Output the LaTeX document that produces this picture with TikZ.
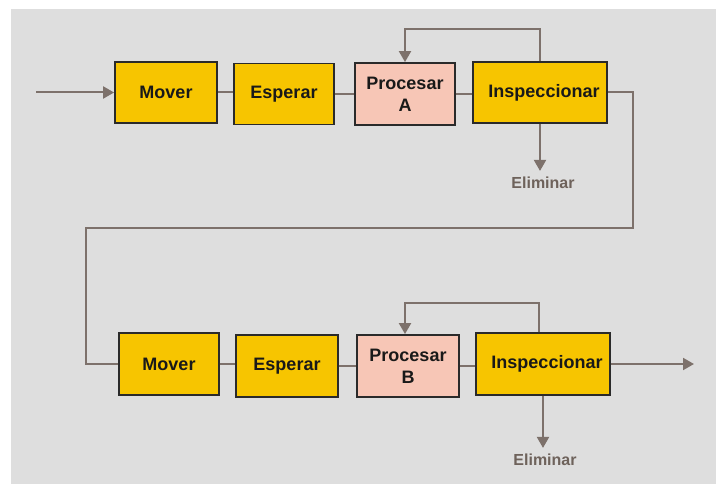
\documentclass[tikz,border=0pt]{standalone}
\usepackage{fontspec}
\setmainfont{Liberation Sans}
\usetikzlibrary{arrows.meta}
\definecolor{panel}{HTML}{DEDEDE}
\definecolor{boxyellow}{HTML}{F7C500}
\definecolor{boxpink}{HTML}{F7C6B6}
\definecolor{wire}{HTML}{7D716B}
\definecolor{outline}{HTML}{2A2A2A}
\definecolor{droptext}{HTML}{6E625B}
\tikzset{
  stepbox/.style={draw=outline, line width=1.8pt, fill=boxyellow, inner sep=0pt,
    font=\fontsize{18}{21}\selectfont\bfseries, text=black!90, align=center},
  procbox/.style={stepbox, fill=boxpink},
  wireline/.style={draw=wire, line width=2pt},
  arr/.style={wireline, -{Triangle[length=11pt,width=12pt]}},
  droplabel/.style={font=\fontsize{16}{19}\selectfont\bfseries, text=droptext, inner sep=1pt}
}
\begin{document}
\begin{tikzpicture}[x=1pt,y=-1pt]
  % canvas and grey panel
  \fill[white] (0,0) rectangle (716,484);
  \fill[panel] (11,9) rectangle (716,484);
  \useasboundingbox (0,0) rectangle (716,484);

  % first line of the process
  \node[stepbox, minimum width=102, minimum height=61] (m1) at (166,92.5) {Mover};
  \node[stepbox, minimum width=100, minimum height=61] (e1) at (284,94) {Esperar};
  \node[procbox, minimum width=100, minimum height=62] (pa) at (405,94) {Procesar\\[1pt]A};
  \node[stepbox, minimum width=134, minimum height=61] (i1) at (540,92.5) {\hspace*{8pt}Inspeccionar};
  \node[droplabel] (d1) at (543,183) {Eliminar};

  % second line of the process
  \node[stepbox, minimum width=100, minimum height=62] (m2) at (169,364) {Mover};
  \node[stepbox, minimum width=102, minimum height=62] (e2) at (287,366) {Esperar};
  \node[procbox, minimum width=102, minimum height=62] (pb) at (408,366) {Procesar\\[1pt]B};
  \node[stepbox, minimum width=134, minimum height=62] (i2) at (543,364) {\hspace*{8pt}Inspeccionar};
  \node[droplabel] (d2) at (545,460) {Eliminar};

  % free ends and bends
  \coordinate (in) at (36,92.5);
  \coordinate (out) at (694,364);
  \coordinate (r1) at (633,92.5);
  \coordinate (r2) at (633,228);
  \coordinate (l1) at (86,228);

  % feed from one box to the next
  \draw[arr] (in) -- (m1.west);
  \draw[wireline] (m1.east) -- (e1.west |- m1.east);
  \draw[wireline] (e1.east) -- (pa.west |- e1.east);
  \draw[wireline] (pa.east) -- (i1.west |- pa.east);
  \draw[wireline] (m2.east) -- (e2.west |- m2.east);
  \draw[wireline] (e2.east) -- (pb.west |- e2.east);
  \draw[wireline] (pb.east) -- (i2.west |- pb.east);

  % rework loops back to processing
  \draw[arr] (i1.north) -- ++(0,-32) -| (pa.north);
  \draw[arr] ([xshift=-4pt]i2.north) -- ++(0,-29) -| ([xshift=-3pt]pb.north);

  % rejected parts
  \draw[arr] (i1.south) -- ([yshift=5pt]i1.south |- d1.north);
  \draw[arr] (i2.south) -- ([yshift=5pt]i2.south |- d2.north);

  % hand-over between the two lines
  \draw[wireline] (i1.east) -- (r1) -- (r2) -- (l1) |- (m2.west);

  % output
  \draw[arr] (i2.east) -- (out);
\end{tikzpicture}
\end{document}
